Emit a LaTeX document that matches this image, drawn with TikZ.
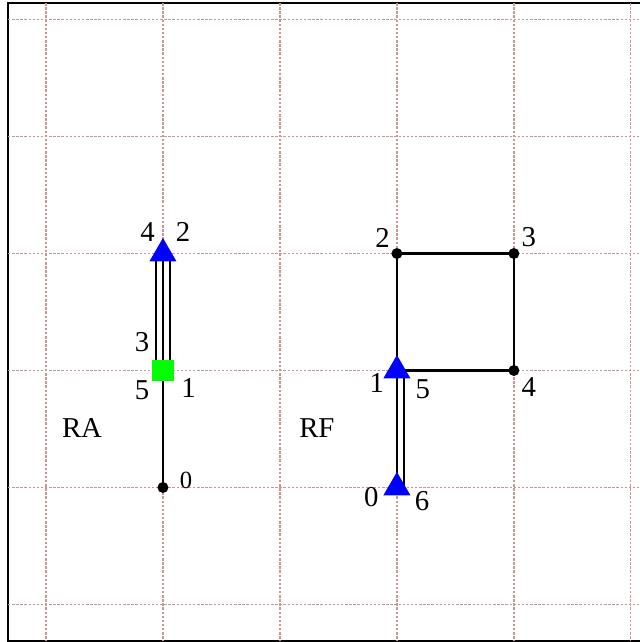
\documentclass[tikz,border=0pt]{standalone}
\usepackage{fontspec}
\setmainfont{Liberation Serif}
\usetikzlibrary{shapes.geometric}
\definecolor{gridc}{RGB}{200,150,150}
\definecolor{pureblue}{RGB}{0,0,255}
\definecolor{puregreen}{RGB}{0,255,0}
\begin{document}
\begin{tikzpicture}[
  gridline/.style={draw=gridc, line width=0.3pt, dash pattern=on 0.6pt off 0.4pt},
  edge/.style={draw=black, line width=0.5pt},
  tri/.style={regular polygon, regular polygon sides=3, fill=pureblue, inner sep=0pt, minimum size=0.266cm},
  sq/.style={rectangle, fill=puregreen, inner sep=0pt, minimum size=0.183cm},
  dot/.style={circle, fill=black, inner sep=0pt, minimum size=0.094cm},
  lbl/.style={inner sep=0pt, font=\fontsize{7}{8}\selectfont},
  slbl/.style={inner sep=0pt, font=\fontsize{6}{7}\selectfont},
]
\useasboundingbox (-0.393,-5.321) rectangle (5.077,0.167);
% frame
\draw[line width=0.5pt] (-0.325,-5.312) rectangle (5.3,0.141);
% grid
\foreach \i in {0,...,5} {
  \draw[gridline] (\i,0.141) -- (\i,-5.312);
  \draw[gridline] (-0.325,-\i) -- (5.3,-\i);
}
% coordinates
\coordinate (a0) at (1,-4);
\coordinate (a1) at (1,-3);
\coordinate (a2) at (1,-2);
\coordinate (f0) at (3,-4);
\coordinate (f1) at (3,-3);
\coordinate (f2) at (3,-2);
\coordinate (f3) at (4,-2);
\coordinate (f4) at (4,-3);
% RA connectors
\draw[edge] (a0) -- (a1);
\draw[edge] ([xshift=-0.06cm]a1) -- ([xshift=-0.06cm]a2);
\draw[edge] (a1) -- (a2);
\draw[edge] ([xshift=0.06cm]a1) -- ([xshift=0.06cm]a2);
% RF connectors
\draw[edge] (f0) -- (f1);
\draw[edge] ([xshift=0.06cm]f0) -- ([xshift=0.06cm]f1);
\draw[edge] (f1) -- (f2) -- (f3) -- (f4) -- (f1);
% markers
\node[dot] (ma0) at (a0) {};
\node[sq] (ma1) at (a1) {};
\node[tri] (ma2) at (a2) {};
\node[tri] (mf0) at (f0) {};
\node[tri] (mf1) at (f1) {};
\node[dot] (mf2) at (f2) {};
\node[dot] (mf3) at (f3) {};
\node[dot] (mf4) at (f4) {};
% RA labels
\node[lbl] (la4) at (0.868,-1.816) {4};
\node[lbl] (la2) at (1.171,-1.816) {2};
\node[lbl] (la3) at (0.821,-2.754) {3};
\node[lbl] (la5) at (0.821,-3.167) {5};
\node[lbl] (la1) at (1.220,-3.150) {1};
\node[slbl] (la0) at (1.197,-3.936) {0};
\node[lbl] (lra) at (0.308,-3.491) {RA};
% RF labels
\node[lbl] (lf2) at (2.878,-1.868) {2};
\node[lbl] (lf3) at (4.128,-1.859) {3};
\node[lbl] (lf1) at (2.829,-3.107) {1};
\node[lbl] (lf5) at (3.222,-3.158) {5};
\node[lbl] (lf4) at (4.128,-3.141) {4};
\node[lbl] (lf0) at (2.782,-4.081) {0};
\node[lbl] (lf6) at (3.214,-4.115) {6};
\node[lbl] (lrf) at (2.316,-3.491) {RF};
\end{tikzpicture}
\end{document}
